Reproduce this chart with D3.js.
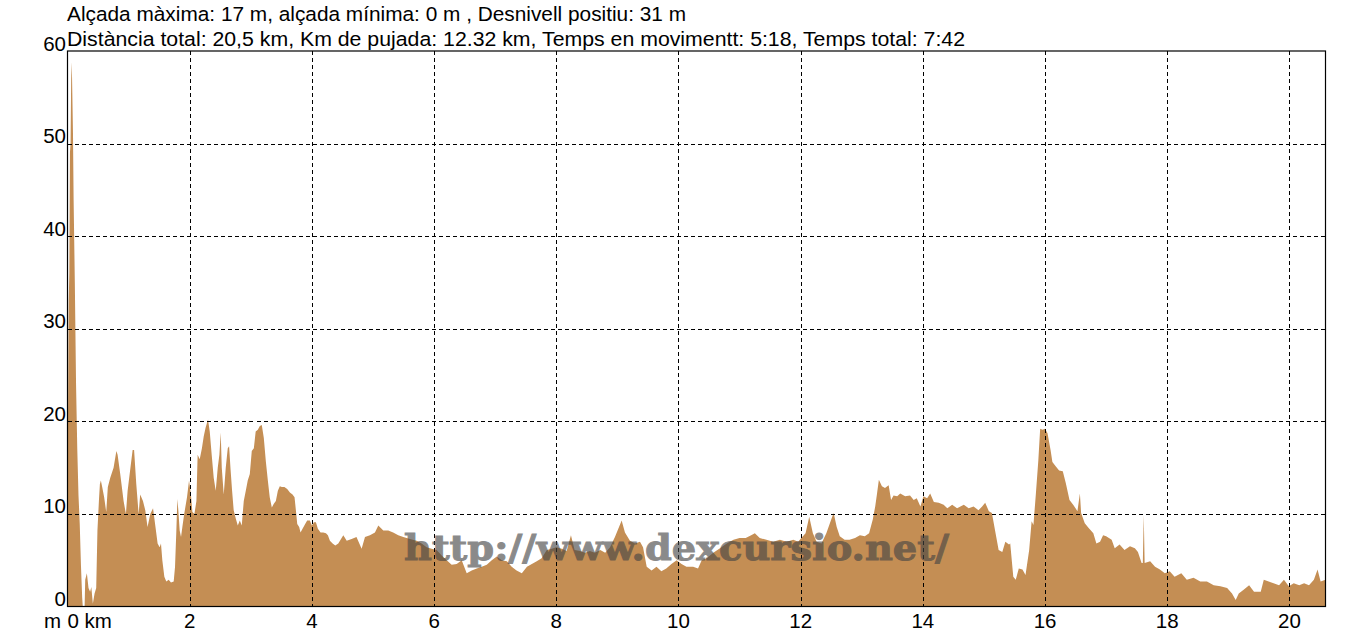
<!DOCTYPE html>
<html><head><meta charset="utf-8">
<script src="https://cdn.jsdelivr.net/npm/d3@7"></script>
<style>body{margin:0;background:#fff;overflow:hidden}</style>
</head><body>
<svg id="c" width="1358" height="638"></svg>
<script>
const distKm = [0.00,0.01,0.02,0.03,0.04,0.05,0.06,0.07,0.08,0.09,0.10,0.12,0.14,0.16,0.18,0.20,0.22,0.24,0.25,0.28,0.29,0.317,0.344,0.37,0.39,0.415,0.443,0.47,0.49,0.514,0.53,0.546,0.568,0.60,0.634,0.66,0.70,0.754,0.80,0.82,0.863,0.918,0.956,0.984,1.03,1.066,1.09,1.126,1.164,1.19,1.235,1.273,1.31,1.355,1.40,1.44,1.475,1.508,1.53,1.552,1.585,1.617,1.656,1.694,1.738,1.76,1.78,1.798,1.814,1.836,1.858,1.88,1.91,1.956,1.989,2.02,2.044,2.077,2.11,2.13,2.164,2.20,2.23,2.26,2.30,2.328,2.36,2.393,2.426,2.459,2.486,2.508,2.525,2.557,2.59,2.623,2.645,2.667,2.694,2.72,2.754,2.787,2.82,2.852,2.885,2.918,2.95,2.984,3.016,3.05,3.08,3.115,3.148,3.18,3.213,3.246,3.279,3.31,3.344,3.377,3.41,3.443,3.475,3.508,3.55,3.596,3.64,3.683,3.716,3.738,3.76,3.792,3.814,3.847,3.89,3.923,3.967,4.0,4.033,4.066,4.098,4.142,4.186,4.23,4.262,4.295,4.339,4.383,4.432,4.514,4.57,4.65,4.73,4.814,4.869,4.95,5.032,5.087,5.169,5.25,5.33,5.414,5.496,5.605,5.714,5.796,5.878,5.96,6.042,6.124,6.206,6.288,6.37,6.452,6.534,6.616,6.698,6.78,6.862,6.944,7.026,7.108,7.19,7.27,7.35,7.436,7.52,7.6,7.68,7.76,7.845,7.927,8.0,8.09,8.17,8.24,8.3,8.39,8.47,8.55,8.63,8.72,8.8,8.88,8.96,9.015,9.07,9.124,9.206,9.288,9.37,9.42,9.48,9.56,9.64,9.72,9.8,9.885,9.97,10.05,10.13,10.24,10.32,10.38,10.46,10.57,10.68,10.79,10.9,11.0,11.1,11.19,11.25,11.33,11.44,11.55,11.66,11.77,11.88,11.96,12.01,12.08,12.14,12.2,12.26,12.34,12.42,12.5,12.54,12.59,12.64,12.72,12.8,12.89,12.97,13.05,13.12,13.18,13.22,13.25,13.28,13.33,13.38,13.44,13.48,13.52,13.58,13.63,13.71,13.79,13.85,13.9,13.96,14.01,14.07,14.12,14.18,14.26,14.34,14.4,14.48,14.56,14.67,14.75,14.83,14.91,14.97,15.02,15.08,15.13,15.19,15.24,15.3,15.35,15.41,15.43,15.48,15.52,15.57,15.63,15.68,15.74,15.78,15.81,15.85,15.89,15.92,15.96,16.0,16.04,16.09,16.12,16.18,16.23,16.29,16.34,16.4,16.46,16.53,16.57,16.59,16.65,16.71,16.79,16.84,16.9,16.95,17.0,17.09,17.14,17.22,17.3,17.39,17.47,17.52,17.58,17.60,17.615,17.63,17.72,17.8,17.88,17.96,18.04,18.12,18.23,18.32,18.43,18.54,18.65,18.76,18.87,18.98,19.06,19.12,19.17,19.25,19.34,19.42,19.53,19.58,19.66,19.74,19.83,19.91,19.99,20.07,20.16,20.24,20.32,20.4,20.46,20.51,20.59];
const elevM = [16,22,33,36,49,50,57,58.8,55,51,44,35,24,17,12,9,4.5,1,0,0,2.9,3.6,2,1.6,2.1,0.3,1.4,2,8.2,11.4,13.2,13.6,12.9,11.8,10.2,12.9,13.9,15,16.8,16.4,14.3,11.4,10,12.5,15,16.9,16.9,13.2,10,12.1,11.4,10.4,8.6,10,10.6,8.6,6.8,6.4,6.8,5,3.2,2.7,2.9,2.6,2.7,4.3,7.9,11.6,10.4,8.2,7.5,8.6,10,11.8,13.6,12.1,10.2,10,11.4,16.4,15.9,17.1,18.4,19.3,20.2,18.9,16.4,13.9,12.5,15,16.4,18.8,15,12.1,15,17.1,17.3,15,12.5,10.4,9.5,8.75,9.3,8.75,11.4,12.5,13.6,14.3,16.8,17.1,18.9,19.1,19.5,19.6,18.2,15.7,13.6,11.8,10.7,11.1,11.4,12.5,13,12.9,12.9,12.7,12.3,12.1,11.8,10.4,8.9,8.6,8,8.4,8.9,9.3,9.3,8.75,9.1,9.1,8.4,8,8,7.9,7.7,7.1,6.8,6.6,6.8,7.7,7.1,7.3,7.5,6.25,7.5,7.7,8,8.75,8.2,8.2,8,7.7,7.5,7.3,7.1,6.8,6.4,6.25,6.1,5.5,5,4.5,4.6,5,3.6,3.9,4.1,4.3,4.5,5,5.4,5,4.9,4.3,3.9,3.6,4.3,4.6,4.9,5.2,6.1,6.25,6.4,6.25,6,7.7,6.1,6,5.8,6,5.8,6.1,5.8,6.4,7.5,8.4,9.3,8,7.1,6.8,7,6.4,4.3,3.9,4.3,3.8,4.1,4.6,5,4.6,4.3,4.3,4.1,5,5.2,5.8,6.3,6.8,7.2,7.4,7.4,7.7,7.9,7.4,7.2,7,7.2,7,7.2,7,7.4,7.9,9.7,7.9,7,6.8,7.9,9.4,10.1,8.6,7.6,7.2,7.2,7.4,7.7,7.6,7.9,9.4,10.8,12.2,13.7,13,12.8,13.1,11.5,12,11.9,12.2,11.9,12,11.5,11.7,10.8,11.9,11.7,12.2,11.3,11.2,11,10.6,11,10.6,11,10.6,10.8,10.4,10.8,11.2,10.3,10.1,7.9,6.1,5.9,7,6.7,6.8,3.2,2.9,4.1,4,3.4,6.1,9.2,8.8,12.2,15.8,19.2,19.1,19.2,18.7,16.9,15.6,15.1,14.7,14.6,13.3,11.5,11,10.3,12.2,10.1,9,8.5,7.9,6.8,7,7.7,7.6,7.2,6.3,6.7,6.1,6.5,6.3,5.9,4.7,4.7,9.9,4.7,4.9,4.3,4,3.6,3.8,3.2,3.6,2.9,3.1,2.7,2.7,2.3,2.2,2,1.4,0.7,1.4,1.8,2.3,1.6,1.6,2.9,2.7,2.5,2.3,2.9,2.2,2.5,2.3,2.5,2.3,2.9,4,2.7,2.9];
const xTicks = [0,2,4,6,8,10,12,14,16,18,20];
const yTicks = [0,10,20,30,40,50,60];
const xUnit = "km";
const yUnit = "m";
const titleLines = [
  "Alçada màxima: 17 m, alçada mínima: 0 m , Desnivell positiu: 31 m",
  "Distància total: 20,5 km, Km de pujada: 12.32 km, Temps en movimentt: 5:18, Temps total: 7:42"
];
const titleWidths = [619, 898];
const watermark = "http://www.dexcursio.net/";

const svg = d3.select("#c");
const L = 67.5, R = 1325.5, T = 51, B = 606.5;
const x = d3.scaleLinear().domain([0, 20.59]).range([L, R]);
const y = d3.scaleLinear().domain([0, 60]).range([B, T]);
const font = "'Liberation Sans', Arial, sans-serif";

svg.append("rect").attr("width",1358).attr("height",638).attr("fill","#fff");

const data = distKm.map((d,i)=>({d, e: elevM[i]}));
svg.append("clipPath").attr("id","clip").append("rect")
  .attr("x",L).attr("y",T).attr("width",R-L).attr("height",B-T);
svg.append("path").datum(data)
  .attr("clip-path","url(#clip)")
  .attr("fill","#c48e54")
  .attr("d", d3.area().x(p=>x(p.d)).y0(B).y1(p=>y(p.e)));

// grid
const g = svg.append("g").attr("stroke","#000").attr("stroke-width",1).attr("stroke-dasharray","4,3").attr("shape-rendering","crispEdges");
xTicks.filter(t=>t>0).forEach(t=>{
  const px = Math.round(x(t))+0.5;
  g.append("line").attr("x1",px).attr("x2",px).attr("y1",T).attr("y2",B);
});
yTicks.filter(t=>t>0 && t<60).forEach(t=>{
  const py = Math.round(y(t))+0.5;
  g.append("line").attr("x1",L).attr("x2",R).attr("y1",py).attr("y2",py);
});
// frame
svg.append("rect").attr("x",L).attr("y",T).attr("width",R-L).attr("height",B-T)
  .attr("fill","none").attr("stroke","#000").attr("stroke-width",1.2);

// y labels
svg.append("g").selectAll("text").data(yTicks).join("text")
  .attr("x",66).attr("y",t=>y(t)-0.5)
  .attr("text-anchor","end").attr("font-family",font).attr("font-size",20.5).attr("fill","#000")
  .text(t=>t);
// x labels
svg.append("g").selectAll("text").data(xTicks).join("text")
  .attr("x",t=> t===0 ? L : x(t))
  .attr("y",628)
  .attr("text-anchor",t=> t===0 ? "start" : "middle")
  .attr("font-family",font).attr("font-size",20.5).attr("fill","#000")
  .text(t=> t===0 ? "0 " + xUnit : t);
svg.append("text").attr("x",61).attr("y",628).attr("text-anchor","end")
  .attr("font-family",font).attr("font-size",20.5).attr("fill","#000").text(yUnit);

// title
svg.append("g").selectAll("text").data(titleLines).join("text")
  .attr("x",67).attr("y",(d,i)=>21+i*25)
  .attr("font-family",font).attr("font-size",20.5).attr("fill","#000")
  .attr("textLength",(d,i)=>titleWidths[i]).attr("lengthAdjust","spacingAndGlyphs")
  .text(d=>d);

// watermark
svg.append("g").attr("opacity",0.62)
  .append("text").attr("x",404).attr("y",560)
  .attr("font-family","'DejaVu Serif','Liberation Serif',serif").attr("font-weight","bold")
  .attr("font-size",36).attr("textLength",545).attr("lengthAdjust","spacingAndGlyphs")
  .attr("fill","#444").attr("stroke","#444").attr("stroke-width",1)
  .text(watermark);
</script>
</body></html>
